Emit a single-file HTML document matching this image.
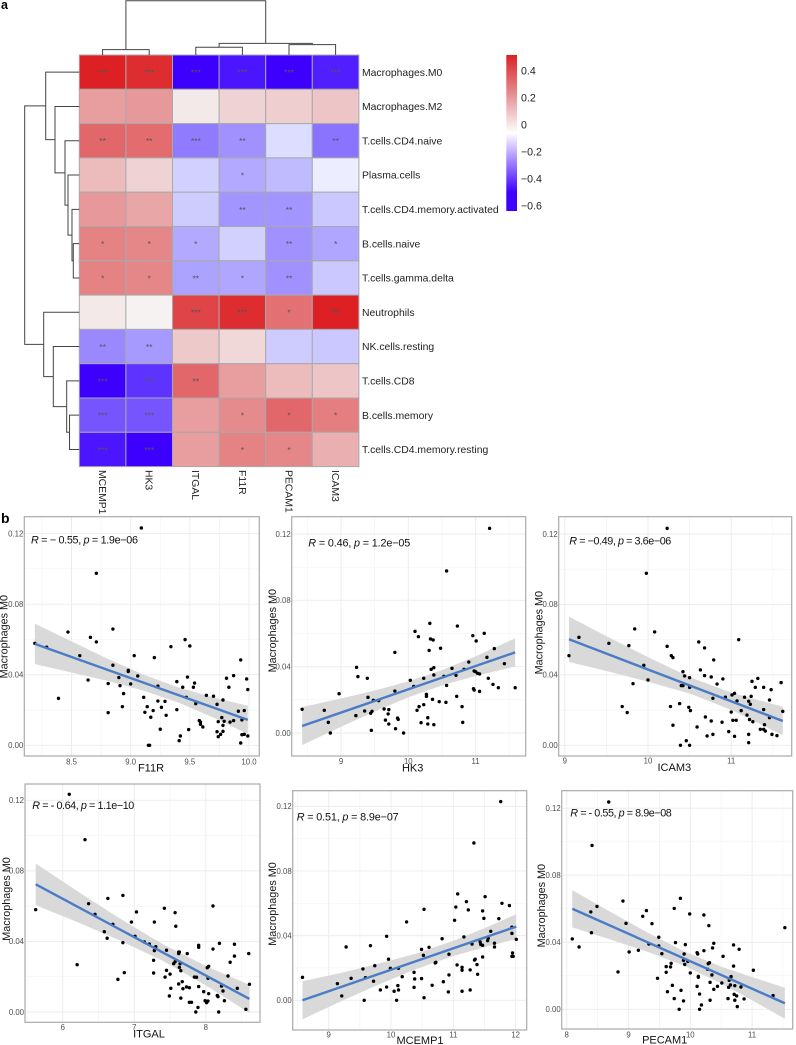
<!DOCTYPE html>
<html>
<head>
<meta charset="utf-8">
<title>Heatmap and correlation scatter panels</title>
<style>
html,body{margin:0;padding:0;background:#fff;width:796px;height:1045px;overflow:hidden}
svg{display:block;font-family:"Liberation Sans",sans-serif}
</style>
</head>
<body>
<svg id="fig" xmlns="http://www.w3.org/2000/svg" width="796" height="1045" viewBox="0 0 796 1045"></svg>
<script>
// ---------- heatmap data ----------
const rowNames = ["Macrophages.M0","Macrophages.M2","T.cells.CD4.naive","Plasma.cells","T.cells.CD4.memory.activated","B.cells.naive","T.cells.gamma.delta","Neutrophils","NK.cells.resting","T.cells.CD8","B.cells.memory","T.cells.CD4.memory.resting"];
const colNames = ["MCEMP1","HK3","ITGAL","F11R","PECAM1","ICAM3"];
const row0 = [.5,.47,-.6,-.55,-.6,-.53];
const row1 = [.22,.23,.05,.1,.11,.13];
const row2 = [.34,.33,-.31,-.26,-.08,-.33];
const row3 = [.15,.1,-.11,-.2,-.16,-.04];
const row4 = [.23,.2,-.12,-.25,-.25,-.13];
const row5 = [.28,.27,-.2,-.11,-.26,-.21];
const row6 = [.28,.27,-.22,-.21,-.26,-.13];
const row7 = [.05,.03,.42,.47,.32,.5];
const row8 = [-.28,-.24,.12,.09,-.12,-.13];
const row9 = [-.6,-.48,.34,.22,.15,.13];
const row10 = [-.4,-.4,.22,.26,.34,.29];
const row11 = [-.55,-.6,.22,.28,.27,.18];
const stars = [
 ["***","***","***","***","***","***"],["","","","","",""],["**","**","***","**","","**"],["","","","*","",""],
 ["","","","**","**",""],["*","*","*","","**","*"],["*","*","**","*","**",""],["","","***","***","*","***"],
 ["**","**","","","",""],["***","***","**","","",""],["***","***","","*","*","*"],["***","***","","*","*",""]];
// linkage: [childA, childB, height]; ids past the leaf count refer to earlier merges
const rowLinkage = [[5,6,.11],[4,12,.134],[3,13,.207],[2,14,.262],[1,15,.445],[0,16,.615],[10,11,.179],[9,18,.231],[8,19,.476],[7,20,.652],[17,21,1]];
const colLinkage = [[0,1,.098],[2,3,.142],[4,5,.19],[7,8,.215],[6,9,1]];
const legendTicks = [.4,.2,0,-.2,-.4,-.6];
const legendLabels = ["0.4","0.2","0","\u22120.2","\u22120.4","\u22120.6"];

// ---------- scatter data ----------
const yTicks = [0,.04,.08,.12];
const yTickLabels = ["0.00","0.04","0.08","0.12"];
const yMinor = [.02,.06,.1];

const f11rX = [9.09,8.71,8.47,8.85,8.66,8.71,8.19,8.29,8.57,8.85,8.64,8.39,8.81,8.81,8.90,8.91,8.98,8.98,9.03,9.06,9.00,8.94,8.93,9.11,9.14,9.12,9.19,9.17,9.20,9.23,9.23,9.26,9.29,9.30,9.25,9.15,9.16,9.34,9.46,9.50,9.39,9.44,9.48,9.54,9.53,9.47,9.39,9.42,9.41,9.49,9.55,9.64,9.70,9.58,9.59,9.59,9.61,9.73,9.74,9.73,9.74,9.77,9.78,9.79,9.78,9.78,9.76,9.81,9.83,9.87,9.84,9.87,9.93,9.91,9.94,9.96,9.93,9.94,9.96,9.99,9.98,9.99];
const f11rY = [.1232,.0975,.0642,.0659,.0612,.0586,.0578,.0556,.0508,.0454,.0370,.0266,.0185,.0350,.0384,.0338,.0425,.0418,.0508,.0393,.0348,.0293,.0219,.0272,.0219,.0187,.0197,.0159,.0497,.0336,.0251,.0215,.0249,.0170,.0091,0,0,.0559,.0599,.0563,.0361,.0329,.0387,.0353,.0329,.0272,.0202,.0053,.0026,.0089,.0236,.0283,.0278,.0140,.0132,.0119,.0104,.0077,.0049,.0232,.0134,.0157,.0257,.0136,.0113,.0079,.0062,.0380,.0329,.0395,.0132,.0140,.0484,.0193,.0144,.0197,.0013,.0060,.0062,.0053,.0376,.0316];
const f11rFitX = [8.19,9.99];
const f11rFitY = [.0575,.0144];
const f11rBandX = [8.19,8.5,8.8,9.1,9.4,9.7,9.99];
const f11rBandHi = [.069,.0589,.0492,.0403,.0329,.0271,.0224];
const f11rBandLo = [.046,.0413,.0366,.0311,.0243,.0157,.0064];
const f11rTicks = [8.5,9,9.5,10];
const f11rTickLabels = ["8.5","9.0","9.5","10.0"];

const hk3X = [11.21,10.57,10.32,10.73,10.10,10.15,11.13,10.96,11.01,10.33,10.37,10.48,10.31,9.80,11.28,11.17,10.90,11.43,9.23,9.25,9.39,8.97,10.34,10.38,10.38,10.65,10.83,10.71,10.53,10.57,10.03,10.08,10.23,10.98,11.00,11.03,11.06,11.19,11.26,11.34,11.59,10.97,10.98,11.06,10.72,10.80,10.81,9.80,9.40,9.48,9.56,10.27,10.27,10.36,10.46,10.56,10.23,10.16,10.13,10.29,10.19,10.29,10.38,8.42,8.75,8.81,8.84,9.22,9.35,9.46,9.44,9.45,9.64,9.71,9.70,9.66,9.71,9.84,9.85,9.81,9.93];
const hk3Y = [.1234,.0977,.0661,.0645,.0613,.0581,.0601,.0587,.0555,.0567,.0561,.0511,.0498,.0486,.0509,.0456,.0428,.0418,.0396,.0340,.0330,.0237,.0384,.0394,.0350,.0390,.0384,.0348,.0342,.0287,.0318,.0281,.0330,.0374,.0370,.0360,.0356,.0330,.0293,.0273,.0273,.0267,.0259,.0251,.0221,.0159,.0064,.0253,.0215,.0197,.0195,.0233,.0221,.0203,.0189,.0185,.0171,.0159,.0137,.0092,.0062,.0054,.0050,.0143,.0137,.0064,0,.0105,.0133,.0131,.0119,.0016,.0145,.0141,.0115,.0078,.0054,.0090,.0082,.0026,0];
const hk3FitX = [8.42,11.59];
const hk3FitY = [.0042,.0486];
const hk3BandX = [8.42,9,9.5,10,10.5,11,11.59];
const hk3BandHi = [.0157,.0208,.0256,.0311,.0379,.0462,.0571];
const hk3BandLo = [-.0073,.0038,.013,.0215,.0287,.0344,.0401];
const hk3Ticks = [9,10,11];
const hk3TickLabels = ["9","10","11"];

const icam3X = [10.23,9.98,10.08,9.84,9.17,9.53,9.77,9.05,9.95,10.00,9.82,9.69,9.75,10.23,10.28,10.30,10.42,10.44,10.50,10.40,10.42,10.50,10.38,10.27,10.49,10.51,10.30,10.59,10.46,10.39,10.50,10.61,10.68,10.79,11.09,10.63,10.68,10.76,10.90,10.83,10.93,10.78,10.69,10.76,10.71,10.78,10.89,10.97,11.00,11.02,11.06,11.04,11.01,11.04,11.07,11.12,11.16,11.19,11.21,11.23,11.24,11.22,11.26,11.21,11.21,11.25,11.29,11.32,11.39,11.48,11.46,11.39,11.46,11.35,11.39,11.40,11.41,11.49,11.55,11.60,11.62];
const icam3Y = [.1232,.0977,.0644,.0661,.0613,.0579,.0566,.0509,.0454,.0371,.0350,.0220,.0186,.0562,.0509,.0498,.0418,.0394,.0384,.0339,.0339,.0329,.0237,.0220,.0216,.0197,.0114,.0104,.0026,0,0,.0587,.0553,.0485,.0600,.0428,.0396,.0388,.0377,.0348,.0273,.0267,.0161,.0138,.0053,.0062,.0131,.0078,.0189,.0142,.0142,.0051,.0286,.0295,.0252,.0197,.0273,.0172,.0250,.0233,.0278,.0146,.0134,.0062,.0015,.0363,.0329,.0380,.0329,.0316,.0257,.0203,.0157,.0091,.0091,.0117,.0081,.0062,.0055,.0356,.0193];
const icam3FitX = [9.05,11.62];
const icam3FitY = [.0602,.0138];
const icam3BandX = [9.05,9.5,10,10.5,11,11.62];
const icam3BandHi = [.0731,.062,.0501,.0388,.0299,.0219];
const icam3BandLo = [.0473,.0422,.0361,.0294,.0201,.0057];
const icam3Ticks = [9,10,11];
const icam3TickLabels = ["9","10","11"];

const itgalX = [6.09,6.31,6.63,6.84,6.36,5.62,6.45,6.70,6.58,6.62,6.84,6.20,6.77,6.86,6.96,7.03,7.01,7.14,7.21,7.28,7.30,7.28,7.27,7.27,7.42,7.57,7.58,7.45,7.62,7.63,7.62,7.74,7.57,7.55,7.64,7.63,7.65,7.45,7.43,7.50,7.51,7.49,7.62,7.67,7.68,7.65,7.73,7.77,7.77,7.80,7.84,7.87,7.90,7.97,7.89,7.86,7.99,8.01,8.03,8.04,7.90,7.90,8.10,8.10,8.19,8.02,8.04,8.03,8.16,8.17,8.18,8.22,8.24,8.26,8.31,8.34,8.40,8.40,8.44,8.56,8.60,8.61];
const itgalY = [.1234,.0977,.0644,.0661,.0614,.0580,.0554,.0497,.0455,.0418,.0393,.0268,.0185,.0223,.0510,.0567,.0429,.0397,.0385,.0510,.0370,.0348,.0293,.0221,.0588,.0563,.0486,.0350,.0340,.0340,.0331,.0331,.0285,.0274,.0274,.0253,.0234,.0236,.0198,.0215,.0134,.0091,.0159,.0172,.0132,.0079,.0142,.0138,.0055,.0055,.0198,.0197,.0144,.0115,.0026,0,.0064,.0053,.0062,.0104,.0378,.0367,.0601,.0357,.0389,.0251,.0259,.0191,.0094,.0087,0,.0147,.0119,.0064,.0204,.0282,.0384,.0317,.0134,.0015,.0331,.0157];
const itgalFitX = [5.62,8.61];
const itgalFitY = [.0724,.0074];
const itgalBandX = [5.62,6.2,6.8,7.4,8,8.61];
const itgalBandHi = [.0842,.0686,.0529,.0384,.0261,.0154];
const itgalBandLo = [.0606,.051,.0405,.029,.0151,-.0006];
const itgalTicks = [6,7,8];
const itgalTickLabels = ["6","7","8"];

const mcemp1X = [11.76,11.33,11.07,11.51,11.21,11.78,11.90,11.04,11.24,11.47,10.53,11.49,11.02,11.73,10.25,11.60,11.94,11.94,9.93,11.17,10.82,11.56,11.55,12.01,11.43,11.44,11.47,11.30,11.66,11.66,9.28,9.67,10.49,10.61,10.52,10.93,11.47,11.35,11.34,11.95,11.94,11.96,9.96,10.72,10.71,11.06,11.38,9.74,9.55,9.99,10.12,11.14,11.14,11.27,10.37,10.93,11.39,8.58,9.14,9.36,9.59,9.72,10.18,10.38,10.49,10.84,10.66,10.11,9.93,10.37,9.83,10.12,10.05,10.92,11.14,11.27,9.21,10.53,9.57,10.09];
const mcemp1Y = [.1229,.0973,.0658,.0641,.0610,.0600,.0586,.0577,.0559,.0553,.0563,.0507,.0495,.0505,.0485,.0427,.0452,.0414,.0396,.0392,.0381,.0384,.0369,.0377,.0361,.0346,.0340,.0348,.0353,.0330,.0330,.0338,.0315,.0328,.0278,.0285,.0268,.0254,.0249,.0293,.0272,.0272,.0254,.0235,.0231,.0219,.0221,.0214,.0194,.0198,.0198,.0204,.0186,.0188,.0173,.0157,.0161,.0142,.0103,.0136,.0140,.0118,.0146,.0132,.0134,.0115,.0093,.0091,.0082,.0080,.0064,.0064,.0056,.0052,.0056,.0064,.0027,.0016,0,0];
const mcemp1FitX = [8.58,12.01];
const mcemp1FitY = [0,.0456];
const mcemp1BandX = [8.58,9.2,9.8,10.4,11,11.5,12.01];
const mcemp1BandHi = [.0118,.017,.0227,.0289,.0368,.0446,.0533];
const mcemp1BandLo = [-.0118,-.0006,.0097,.0193,.0274,.0328,.0379];
const mcemp1Ticks = [9,10,11,12];
const mcemp1TickLabels = ["9","10","11","12"];

const pecam1X = [8.68,8.41,9.84,8.91,8.49,9.74,9.29,8.39,9.99,9.23,10.22,8.96,9.38,10.30,11.53,8.40,8.09,9.49,8.20,9.76,9.92,10.38,10.70,10.36,10.79,9.33,9.49,9.01,9.16,9.54,9.90,10.11,10.12,10.22,10.53,9.89,9.96,9.91,10.31,10.29,9.69,9.61,9.68,10.70,11.02,8.83,9.61,10.00,10.28,10.35,10.13,10.13,9.47,10.66,10.32,10.51,10.63,10.65,10.62,10.72,10.82,10.44,10.11,9.71,10.38,9.63,9.85,10.15,10.71,10.75,11.34,9.74,9.89,10.32,10.61,10.72,10.87,10.18,10.76,9.82,10.15];
const pecam1Y = [.1237,.0978,.0662,.0646,.0614,.0602,.0589,.0581,.0569,.0555,.0563,.0513,.0511,.0499,.0487,.0457,.0420,.0430,.0372,.0398,.0386,.0394,.0384,.0366,.0358,.0390,.0378,.0342,.0352,.0332,.0330,.0338,.0330,.0350,.0316,.0292,.0286,.0268,.0278,.0272,.0274,.0255,.0253,.0258,.0233,.0223,.0221,.0217,.0239,.0205,.0197,.0191,.0185,.0195,.0161,.0157,.0173,.0145,.0131,.0141,.0133,.0137,.0137,.0143,.0119,.0105,.0113,.0091,.0089,.0080,.0082,.0064,.0050,.0054,.0064,.0054,.0062,.0026,.0016,0,0];
const pecam1FitX = [8.09,11.53];
const pecam1FitY = [.06,.0036];
const pecam1BandX = [8.09,8.7,9.3,9.9,10.5,11,11.53];
const pecam1BandHi = [.0711,.0583,.046,.0346,.0255,.0192,.0129];
const pecam1BandLo = [.0489,.0417,.0344,.026,.0155,.0054,-.0057];
const pecam1Ticks = [8,9,10,11];
const pecam1TickLabels = ["8","9","10","11"];

// ---------- helpers ----------
const NS = "http://www.w3.org/2000/svg";
const fig = document.getElementById("fig");
function mk(tag, attrs, parent){
  const el = document.createElementNS(NS, tag);
  for(const k in attrs) el.setAttribute(k, attrs[k]);
  (parent || fig).appendChild(el);
  return el;
}
function linear(d0, d1, r0, r1){ return v => r0 + (v - d0) * (r1 - r0) / (d1 - d0); }

// ---------- heatmap ----------
const heatRows = [row0,row1,row2,row3,row4,row5,row6,row7,row8,row9,row10,row11];
const hmLeft = 79.3, hmTop = 55, cellW = 46.6, cellH = 34.3;
function cellColor(v){
  if(v >= 0){
    const t = Math.min(1, v / .5);
    return "rgb(" + Math.round(255 - 35 * Math.sqrt(t)) + "," + Math.round(255 - 223 * t) + "," + Math.round(255 - 219 * t) + ")";
  }
  const t = Math.min(1, -v / .6);
  return "rgb(" + Math.round(255 - 194 * Math.pow(t, .85)) + "," + Math.round(255 * (1 - t)) + ",255)";
}
const heatG = mk("g", {});


heatRows.forEach((vals, r) => {
  vals.forEach((v, c) => {
    const cell = mk("rect", {x: hmLeft + c * cellW, y: hmTop + r * cellH, width: cellW, height: cellH, fill: cellColor(v), stroke: "#a9a9a9", "stroke-width": 1}, heatG);
    
    
    if(stars[r][c]){
      const s = mk("text", {x: hmLeft + (c + .5) * cellW, y: hmTop + (r + .5) * cellH + 3.4, "text-anchor": "middle", "font-size": 8.5, fill: "#555"}, heatG);
      s.textContent = stars[r][c];
      
      
    }
  });
  const lab = mk("text", {x: 362, y: hmTop + (r + .5) * cellH + 3.6, "font-size": 10.4, fill: "#222"});
  lab.textContent = rowNames[r];
  
  
});
colNames.forEach((n, c) => {
  const cx = hmLeft + (c + .5) * cellW;
  const lab = mk("text", {x: 0, y: 0, transform: "translate(" + (cx - 3.6) + ",470) rotate(90)", "font-size": 10.4, fill: "#222"});
  lab.textContent = n;
  
  
});

// ---------- dendrograms ----------
function dendro(linkage, leafCount, leafPos, heightToPx, horizontalRoot, name){
  const g = mk("g", {fill: "none", stroke: "#444", "stroke-width": 1});
  
  
  const pos = [], base = heightToPx(0);
  for(let i = 0; i < leafCount; i++) pos[i] = {p: leafPos(i), h: base};
  linkage.forEach((m, i) => {
    const a = pos[m[0]], b = pos[m[1]], h = heightToPx(m[2]);
    const d = horizontalRoot
      ? "M" + a.p + " " + a.h + "V" + h + "H" + b.p + "V" + b.h
      : "M" + a.h + " " + a.p + "H" + h + "V" + b.p + "H" + b.h;
    mk("path", {d: d}, g);
    pos[leafCount + i] = {p: (a.p + b.p) / 2, h: h};
  });
}
dendro(rowLinkage, 12, i => hmTop + (i + .5) * cellH, linear(0, 1, 79.3, 24.7), false, 'row-dendrogram');
dendro(colLinkage, 6, i => hmLeft + (i + .5) * cellW, linear(0, 1, 55, .7), true, 'column-dendrogram');

// ---------- colour legend ----------
const defs = mk("defs", {});
const grad = mk("linearGradient", {id: "legendGrad", x1: 0, y1: 0, x2: 0, y2: 1}, defs);
mk("stop", {offset: "0", "stop-color": "#dc2025"}, grad);
mk("stop", {offset: ".25", "stop-color": "#e48f92"}, grad);
mk("stop", {offset: ".5", "stop-color": "#ffffff"}, grad);
mk("stop", {offset: ".88", "stop-color": "#3d00ff"}, grad);
mk("stop", {offset: "1", "stop-color": "#3d00ff"}, grad);
const legendBar = mk("rect", {x: 506.3, y: 55, width: 10.7, height: 156, fill: "url(#legendGrad)"});


const legY = linear(.4, -.6, 70.7, 205.7);
legendTicks.forEach((v, i) => {
  const t = mk("text", {x: 521, y: legY(v) + 3.8, "font-size": 10.6, fill: "#222"});
  t.textContent = legendLabels[i];
  
  
});

// ---------- panel letters ----------
[["a",1,9,12.5],["b",1,523,14]].forEach(p => {
  const t = mk("text", {x: p[1], y: p[2], "font-size": p[3], "font-weight": "bold", fill: "#000"});
  t.textContent = p[0];
  
  
});

// ---------- scatter panels ----------
function drawPanel(o){
  const x = linear(o.xd[0], o.xd[1], o.xr[0], o.xr[1]);
  const y = linear(0, .12, o.y0, o.y12);
  const g = mk("g", {});
  
  
  const R = o.box;
  const bg = mk("rect", {x: R[0], y: R[1], width: R[2] - R[0], height: R[3] - R[1], fill: "#fff"}, g);
  
  
  yMinor.forEach(v => mk("line", {x1: R[0], x2: R[2], y1: y(v), y2: y(v), stroke: "#f3f3f3", "stroke-width": .6}, g));
  for(let i = 0; i < o.ticks.length; i++){
    const step = o.ticks.length > 1 ? o.ticks[1] - o.ticks[0] : 1;
    [o.ticks[i] - step / 2, o.ticks[i] + step / 2].forEach(m => {
      if(x(m) > R[0] && x(m) < R[2]) mk("line", {x1: x(m), x2: x(m), y1: R[1], y2: R[3], stroke: "#f3f3f3", "stroke-width": .6}, g);
    });
  }
  yTicks.forEach((v, i) => {
    mk("line", {x1: R[0], x2: R[2], y1: y(v), y2: y(v), stroke: "#ebebeb", "stroke-width": .9}, g);
    const t = mk("text", {x: R[0] - 1, y: y(v) + 2.8, "text-anchor": "end", "font-size": 7.8, fill: "#4d4d4d"}, g);
    t.textContent = yTickLabels[i];
    
    
  });
  o.ticks.forEach((v, i) => {
    mk("line", {x1: x(v), x2: x(v), y1: R[1], y2: R[3], stroke: "#ebebeb", "stroke-width": .9}, g);
    const t = mk("text", {x: x(v), y: o.tickY, "text-anchor": "middle", "font-size": 7.8, fill: "#4d4d4d"}, g);
    t.textContent = o.tickLabels[i];
    
    
  });
  let d = "";
  o.bandX.forEach((v, i) => { d += (i ? "L" : "M") + x(v) + " " + y(o.bandHi[i]); });
  for(let i = o.bandX.length - 1; i >= 0; i--) d += "L" + x(o.bandX[i]) + " " + y(o.bandLo[i]);
  const band = mk("path", {d: d + "Z", fill: "#d9d9d9"}, g);
  
  
  o.xs.forEach((v, i) => {
    const pt = mk("circle", {cx: x(v), cy: y(o.ys[i]), r: 1.7, fill: "#000"}, g);
    
    
  });
  const fit = mk("line", {x1: x(o.fitX[0]), y1: y(o.fitY[0]), x2: x(o.fitX[1]), y2: y(o.fitY[1]), stroke: "#4a7cc6", "stroke-width": 2.4}, g);
  
  
  const border = mk("rect", {x: R[0], y: R[1], width: R[2] - R[0], height: R[3] - R[1], fill: "none", stroke: "#aaa", "stroke-width": 1.2}, g);
  
  
  const ann = mk("text", {x: o.ann[0], y: o.ann[1], "font-size": 10.8, fill: "#111", textLength: o.annW, lengthAdjust: "spacing"}, g);
  
  
  const i1 = mk("tspan", {"font-style": "italic"}, ann); i1.textContent = "R";
  const t1 = mk("tspan", {}, ann); t1.textContent = o.r;
  const i2 = mk("tspan", {"font-style": "italic"}, ann); i2.textContent = "p";
  const t2 = mk("tspan", {}, ann); t2.textContent = o.p;
  const xt = mk("text", {x: o.xt[0], y: o.xt[1], "text-anchor": "middle", "font-size": 11, fill: "#111"}, g);
  xt.textContent = o.title;
  
  
  const yt = mk("text", {x: 0, y: 0, transform: "translate(" + o.yt[0] + "," + o.yt[1] + ") rotate(-90)", "text-anchor": "middle", "font-size": 10.8, fill: "#111"}, g);
  yt.textContent = "Macrophages M0";
  
  
}

drawPanel({title: "F11R", xs: f11rX, ys: f11rY, fitX: f11rFitX, fitY: f11rFitY, bandX: f11rBandX, bandHi: f11rBandHi, bandLo: f11rBandLo, ticks: f11rTicks, tickLabels: f11rTickLabels,
  box: [24.3,516.7,259.3,756], xd: [9,10], xr: [130.67,249], y0: 745.3, y12: 533.6, tickY: 764.3, ann: [31,543.3], annW: 107, r: " = \u2212 0.55, ", p: " = 1.9e\u221206", xt: [151,771.7], yt: [7.5,636.7]});
drawPanel({title: "HK3", xs: hk3X, ys: hk3Y, fitX: hk3FitX, fitY: hk3FitY, bandX: hk3BandX, bandHi: hk3BandHi, bandLo: hk3BandLo, ticks: hk3Ticks, tickLabels: hk3TickLabels,
  box: [291.7,516.7,525.7,756], xd: [10,11], xr: [408.3,475.5], y0: 733, y12: 534, tickY: 764, ann: [308.3,546.7], annW: 102, r: " = 0.46, ", p: " = 1.2e\u221205", xt: [412.7,771.7], yt: [276,630.7]});
drawPanel({title: "ICAM3", xs: icam3X, ys: icam3Y, fitX: icam3FitX, fitY: icam3FitY, bandX: icam3BandX, bandHi: icam3BandHi, bandLo: icam3BandLo, ticks: icam3Ticks, tickLabels: icam3TickLabels,
  box: [558.7,516.7,791.7,756], xd: [10,11], xr: [648,731.2], y0: 745.3, y12: 534, tickY: 763.5, ann: [569.3,544.3], annW: 102, r: " =  \u22120.49, ", p: " = 3.6e\u221206", xt: [674.3,771], yt: [542.7,632.7]});
drawPanel({title: "ITGAL", xs: itgalX, ys: itgalY, fitX: itgalFitX, fitY: itgalFitY, bandX: itgalBandX, bandHi: itgalBandHi, bandLo: itgalBandLo, ticks: itgalTicks, tickLabels: itgalTickLabels,
  box: [25,784,260,1022.3], xd: [7,8], xr: [134.33,205.83], y0: 1012, y12: 800.3, tickY: 1030, ann: [32.3,809], annW: 102, r: " = - 0.64, ", p: " = 1.1e\u221210", xt: [149,1037.7], yt: [10,899]});
drawPanel({title: "MCEMP1", xs: mcemp1X, ys: mcemp1Y, fitX: mcemp1FitX, fitY: mcemp1FitY, bandX: mcemp1BandX, bandHi: mcemp1BandHi, bandLo: mcemp1BandLo, ticks: mcemp1Ticks, tickLabels: mcemp1TickLabels,
  box: [292.7,790.7,526.7,1030], xd: [10,11], xr: [391,453.33], y0: 1000.3, y12: 806.3, tickY: 1037.7, ann: [296.7,820.7], annW: 102, r: " = 0.51, ", p: " = 8.9e\u221207", xt: [420,1044], yt: [276,904]});
drawPanel({title: "PECAM1", xs: pecam1X, ys: pecam1Y, fitX: pecam1FitX, fitY: pecam1FitY, bandX: pecam1BandX, bandHi: pecam1BandHi, bandLo: pecam1BandLo, ticks: pecam1Ticks, tickLabels: pecam1TickLabels,
  box: [561.7,790.7,792.7,1029], xd: [10,11], xr: [690.3,752.1], y0: 1009.3, y12: 808.2, tickY: 1037.7, ann: [570.3,816.7], annW: 101.5, r: " = - 0.55, ", p: " = 8.9e\u221208", xt: [664.7,1043.7], yt: [545,905.7]});
</script>
</body>
</html>
